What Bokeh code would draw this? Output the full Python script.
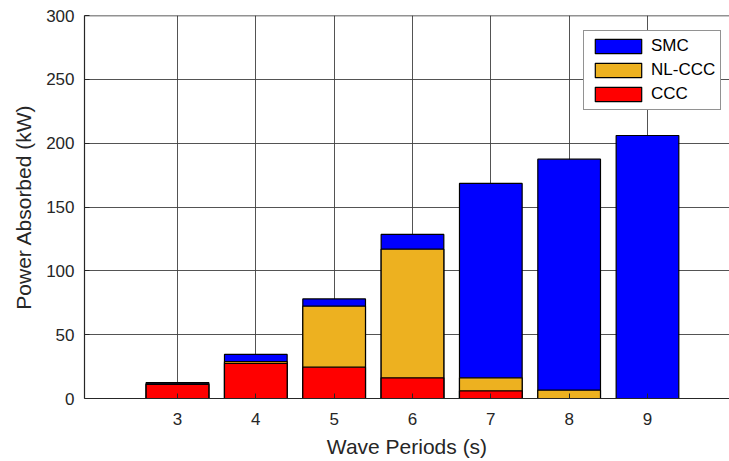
from bokeh.plotting import figure
from bokeh.models import ColumnDataSource, Span, FixedTicker
from bokeh.embed import file_html
from bokeh.resources import INLINE

periods = [3, 4, 5, 6, 7, 8, 9]
tick_labels = ["3", "4", "5", "6", "7", "8", "9"]
smc = [12.5, 34.5, 78, 128.5, 168.5, 187.5, 206]
nl_ccc = [11.5, 29, 72.3, 117, 16.2, 6.5, 0]
ccc = [11, 27.5, 24.5, 16.2, 6, 0, 0]

series_names = ["SMC", "NL-CCC", "CCC"]
series_colors = ["#0000FF", "#EDB120", "#FF0000"]

src = ColumnDataSource(dict(x=periods, smc=smc, nl=nl_ccc, ccc=ccc))

p = figure(width=729, height=461, output_backend="svg", toolbar_location=None,
           x_range=(1.813, 10.047), y_range=(0, 300),
           min_border_left=84, min_border_right=0, min_border_top=15, min_border_bottom=63)
p.background_fill_color = "white"
p.border_fill_color = "white"
p.outline_line_color = None

for col, name, color in zip(["smc", "nl", "ccc"], series_names, series_colors):
    p.vbar(x="x", top=col, bottom=0, width=0.8, source=src, fill_color=color,
           line_color="black", line_width=1.2, legend_label=name)

p.add_layout(Span(location=300, dimension="width", line_color="#262626", line_width=1.5))

p.xaxis.ticker = FixedTicker(ticks=periods)
p.xaxis.major_label_overrides = {v: t for v, t in zip(periods, tick_labels)}
p.yaxis.ticker = FixedTicker(ticks=[0, 50, 100, 150, 200, 250, 300])

for ax in (p.xaxis[0], p.yaxis[0]):
    ax.axis_line_color = "#262626"
    ax.axis_line_width = 1.2
    ax.major_tick_line_color = "#262626"
    ax.major_tick_in = 5
    ax.major_tick_out = 0
    ax.minor_tick_line_color = None
    ax.major_label_text_font = "Liberation Sans"
    ax.major_label_text_font_size = "17px"
    ax.major_label_text_color = "#262626"
    ax.axis_label_text_font = "Liberation Sans"
    ax.axis_label_text_font_size = "21px"
    ax.axis_label_text_font_style = "normal"
    ax.axis_label_text_color = "#262626"

p.xaxis.axis_label = "Wave Periods (s)"
p.yaxis.axis_label = "Power Absorbed (kW)"
p.xaxis.major_label_standoff = 14
p.yaxis.major_label_standoff = 10
p.xaxis.axis_label_standoff = 7
p.yaxis.axis_label_standoff = 8

p.grid.grid_line_color = "#404040"
p.grid.grid_line_alpha = 0.9
p.grid.grid_line_width = 1

lg = p.legend[0]
lg.location = (499, 288)
lg.border_line_color = "#262626"
lg.border_line_width = 1
lg.background_fill_alpha = 1
lg.label_text_font = "Liberation Sans"
lg.label_text_font_size = "17px"
lg.label_text_color = "black"
lg.glyph_width = 58
lg.glyph_height = 18
lg.label_height = 18
lg.spacing = 4
lg.padding = 5
lg.margin = 0
lg.label_standoff = 4

open("out.html", "w").write(file_html(p, INLINE))
